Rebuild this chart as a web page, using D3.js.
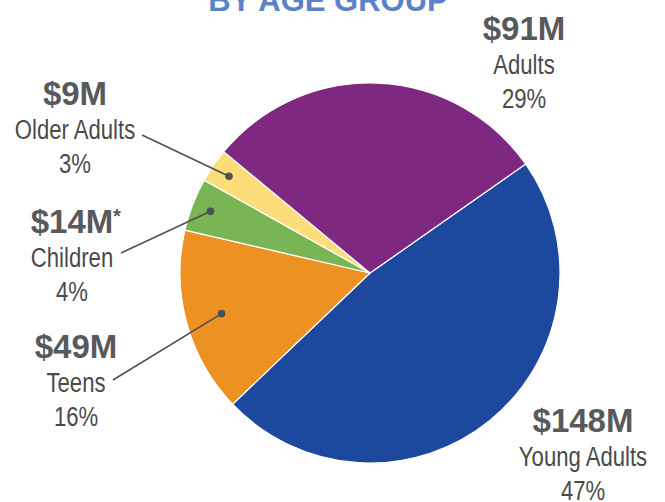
<!DOCTYPE html>
<html>
<head>
<meta charset="utf-8">
<script src="https://cdn.jsdelivr.net/npm/d3@7"></script>
<style>
  body { margin: 0; background: #fff; }
  svg { display: block; }
</style>
</head>
<body>
<script>
const groups = ["Young Adults", "Teens", "Children", "Older Adults", "Adults"];
const amounts = [148, 49, 14, 9, 91];
const amountLabels = ["$148M", "$49M", "$14M", "$9M", "$91M"];
const percentLabels = ["47%", "16%", "4%", "3%", "29%"];
const colors = ["#1c499e", "#ee9123", "#79b554", "#fbdd7a", "#7f2882"];

const width = 665;
const height = 502;
const cx = 370;
const cy = 273;
const radius = 190;

// where each label block sits, and where its leader line starts
const labelPos = [
  { x: 583, y: 432, line: null },
  { x: 76, y: 358, line: [113, 380], dot: 0.81 },
  { x: 72, y: 233, line: [121, 253], dot: 0.9, star: true },
  { x: 75, y: 105, line: [142, 135], dot: 0.9 },
  { x: 524, y: 40, line: null }
];

const narrow = 0.79; // squeeze regular text to look condensed

const svg = d3
  .select("body")
  .append("svg")
  .attr("width", width)
  .attr("height", height);

// Title (cut off at top)
svg
  .append("text")
  .attr("x", 328)
  .attr("y", 11)
  .attr("text-anchor", "middle")
  .style("font-family", "'Liberation Sans', Arial, sans-serif")
  .style("font-weight", "bold")
  .style("font-size", "31px")
  .attr("fill", "#5a82c6")
  .text("BY AGE GROUP");

const startAngle = (55 * Math.PI) / 180;

const pie = d3
  .pie()
  .sort(null)
  .value((d) => d)
  .startAngle(startAngle)
  .endAngle(startAngle + 2 * Math.PI);

const arcs = pie(amounts);

const arc = d3.arc().innerRadius(0).outerRadius(radius);

const g = svg.append("g").attr("transform", `translate(${cx}, ${cy})`);

g.selectAll("path")
  .data(arcs)
  .enter()
  .append("path")
  .attr("d", arc)
  .attr("fill", (d, i) => colors[i])
  .attr("stroke", "#fff")
  .attr("stroke-width", 1.2);

// Leader lines with dots
arcs.forEach((a, i) => {
  const p = labelPos[i];
  if (!p.line) return;
  const r = radius * p.dot;
  const mid = d3.arc().innerRadius(r).outerRadius(r).centroid(a);
  const dx = cx + mid[0];
  const dy = cy + mid[1];
  svg
    .append("line")
    .attr("x1", p.line[0])
    .attr("y1", p.line[1])
    .attr("x2", dx)
    .attr("y2", dy)
    .attr("stroke", "#4f5052")
    .attr("stroke-width", 1.6);
  svg
    .append("circle")
    .attr("cx", dx)
    .attr("cy", dy)
    .attr("r", 3.8)
    .attr("fill", "#4f5052");
});

function narrowText(x, y, str) {
  svg
    .append("text")
    .attr("transform", `translate(${x}, ${y}) scale(${narrow}, 1)`)
    .attr("text-anchor", "middle")
    .style("font-family", "'Liberation Sans', Arial, sans-serif")
    .style("font-size", "28px")
    .attr("fill", "#4a4a4c")
    .text(str);
}

// Labels
groups.forEach((name, i) => {
  const p = labelPos[i];
  svg
    .append("text")
    .attr("x", p.x)
    .attr("y", p.y)
    .attr("text-anchor", "middle")
    .style("font-family", "'Liberation Sans', Arial, sans-serif")
    .style("font-weight", "bold")
    .style("font-size", "33px")
    .attr("fill", "#58595b")
    .text(amountLabels[i]);
  if (p.star) {
    svg
      .append("text")
      .attr("x", p.x + 41)
      .attr("y", p.y - 10)
      .style("font-family", "'Liberation Sans', Arial, sans-serif")
      .style("font-weight", "bold")
      .style("font-size", "20px")
      .attr("fill", "#58595b")
      .text("*");
  }
  narrowText(p.x, p.y + 34, name);
  narrowText(p.x, p.y + 68, percentLabels[i]);
});
</script>
</body>
</html>
